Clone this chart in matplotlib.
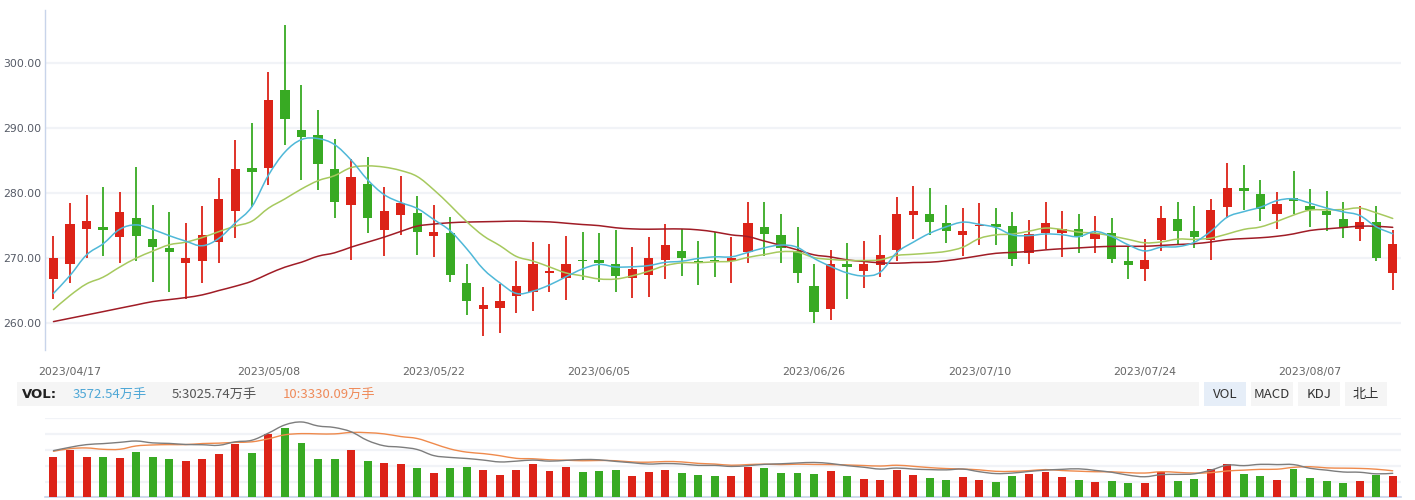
import matplotlib
matplotlib.use("Agg")
import matplotlib.pyplot as plt
from matplotlib.patches import Rectangle, PathPatch
from matplotlib.path import Path
import numpy as np

plt.rcParams['font.family'] = ['DejaVu Sans', 'Noto Sans CJK SC']

# ---------------- data ----------------
dates = [
    "2023/04/14", "2023/04/17", "2023/04/18", "2023/04/19", "2023/04/20", "2023/04/21",
    "2023/04/24", "2023/04/25", "2023/04/26", "2023/04/27", "2023/04/28",
    "2023/05/04", "2023/05/05", "2023/05/08", "2023/05/09", "2023/05/10", "2023/05/11",
    "2023/05/12", "2023/05/15", "2023/05/16", "2023/05/17", "2023/05/18", "2023/05/19",
    "2023/05/22", "2023/05/23", "2023/05/24", "2023/05/25", "2023/05/26", "2023/05/29",
    "2023/05/30", "2023/05/31", "2023/06/01", "2023/06/02", "2023/06/05", "2023/06/06",
    "2023/06/07", "2023/06/08", "2023/06/09", "2023/06/12", "2023/06/13", "2023/06/14",
    "2023/06/15", "2023/06/16", "2023/06/19", "2023/06/20", "2023/06/21", "2023/06/26",
    "2023/06/27", "2023/06/28", "2023/06/29", "2023/06/30", "2023/07/03", "2023/07/04",
    "2023/07/05", "2023/07/06", "2023/07/07", "2023/07/10", "2023/07/11", "2023/07/12",
    "2023/07/13", "2023/07/14", "2023/07/17", "2023/07/18", "2023/07/19", "2023/07/20",
    "2023/07/21", "2023/07/24", "2023/07/25", "2023/07/26", "2023/07/27", "2023/07/28",
    "2023/07/31", "2023/08/01", "2023/08/02", "2023/08/03", "2023/08/04", "2023/08/07",
    "2023/08/08", "2023/08/09", "2023/08/10", "2023/08/11", "2023/08/14",
]

opens = [266.77, 269.18, 274.46, 274.72, 273.23, 276.10, 272.87, 271.49, 269.33, 269.49,
         272.41, 277.18, 283.79, 283.79, 295.79, 289.64, 288.87, 283.64, 278.15, 281.33,
         274.31, 276.62, 276.87, 273.38, 273.79, 266.26, 262.15, 262.31, 264.15, 264.77,
         267.79, 266.92, 269.74, 269.79, 269.03, 266.92, 267.38, 269.69, 271.03, 269.64,
         269.79, 269.64, 270.87, 274.72, 273.49, 271.03, 265.79, 262.15, 269.18, 268.00,
         268.92, 271.23, 276.62, 276.72, 275.33, 273.49, 274.87, 275.18, 274.87, 270.77,
         273.85, 273.79, 274.41, 272.92, 273.79, 269.49, 268.31, 272.72, 275.95, 274.10,
         272.72, 277.79, 280.72, 279.79, 276.72, 279.18, 277.95, 277.18, 275.95, 274.46,
         275.49, 267.69]
closes = [269.95, 275.18, 275.64, 274.31, 277.03, 273.38, 271.69, 270.87, 270.10, 273.49,
          279.03, 283.64, 283.23, 294.26, 291.33, 288.56, 284.41, 278.62, 282.41, 276.15,
          277.18, 278.41, 274.00, 273.95, 267.38, 263.38, 262.87, 263.49, 265.79, 269.18,
          268.10, 269.18, 269.49, 269.23, 267.23, 268.26, 270.10, 271.95, 270.10, 269.38,
          269.49, 270.10, 275.33, 273.64, 271.49, 267.69, 261.69, 269.18, 268.62, 269.18,
          270.56, 276.72, 277.18, 275.49, 274.15, 274.10, 275.03, 274.72, 269.85, 273.64,
          275.33, 274.46, 273.23, 273.79, 269.85, 268.92, 269.79, 276.10, 274.15, 273.23,
          277.33, 280.72, 280.31, 277.54, 278.26, 278.72, 277.38, 276.56, 274.62, 275.49,
          270.00, 272.10]
highs = [273.33, 278.41, 279.64, 280.87, 280.10, 283.95, 278.10, 277.03, 275.33, 277.95,
         282.26, 288.10, 290.72, 298.56, 305.79, 296.56, 292.72, 288.26, 285.18, 285.49,
         280.87, 282.56, 279.49, 278.10, 276.26, 269.18, 265.64, 266.10, 269.64, 272.41,
         272.10, 273.33, 273.95, 273.79, 274.26, 271.64, 273.18, 275.18, 274.41, 272.56,
         273.95, 273.18, 278.56, 278.56, 276.72, 274.72, 269.03, 271.18, 272.26, 272.56,
         273.49, 279.33, 281.03, 280.72, 278.10, 277.64, 278.41, 277.64, 277.03, 275.79,
         278.56, 277.18, 276.72, 276.41, 276.10, 271.85, 272.87, 277.95, 278.56, 277.95,
         279.03, 284.56, 284.26, 281.95, 280.10, 283.33, 280.56, 280.26, 278.56, 277.95,
         277.95, 274.26]
lows = [263.69, 266.15, 269.95, 270.31, 269.33, 269.49, 266.41, 264.87, 263.69, 266.15,
        269.33, 273.03, 277.85, 281.18, 287.33, 281.95, 280.46, 276.15, 269.69, 273.85,
        270.31, 273.54, 270.46, 270.15, 266.31, 261.23, 258.00, 258.46, 261.54, 261.85,
        264.77, 263.54, 266.62, 266.31, 264.77, 263.85, 264.00, 266.77, 267.23, 265.85,
        267.08, 266.15, 269.23, 270.31, 269.23, 266.15, 260.00, 260.46, 263.69, 265.38,
        267.08, 269.54, 272.92, 273.49, 272.26, 270.31, 272.00, 272.00, 268.77, 269.08,
        271.38, 270.15, 270.77, 270.77, 269.23, 266.77, 266.46, 271.08, 272.15, 271.54,
        269.69, 276.10, 277.33, 275.64, 274.41, 276.72, 274.72, 274.10, 273.03, 272.62,
        269.54, 265.08]

# volume in 万手
volumes = [6754, 7926, 6754, 6754, 6587, 7592, 6754, 6419, 6084, 6419,
           7257, 8931, 7424, 10606, 11611, 9099, 6419, 6419, 7926, 6084,
           5749, 5582, 4912, 4075, 4912, 5080, 4577, 3740, 4577, 5582,
           4410, 5080, 4242, 4410, 4577, 3572, 4242, 4577, 4075, 3740,
           3572, 3572, 5080, 4912, 4075, 4075, 3907, 4410, 3572, 3070,
           2903, 4577, 3740, 3238, 2903, 3405, 2903, 2568, 3572, 3907,
           4242, 3405, 2903, 2568, 2735, 2400, 2400, 4242, 2735, 3070,
           4745, 5582, 3907, 3572, 2903, 4745, 3238, 2735, 2400, 2735,
           3740, 3572.54]

# moving-average values before enough history is visible
ma5_head = [264.60, 267.33, 270.50, 272.20]
ma10_head = [262.10, 264.26, 266.05, 267.08, 268.62, 270.00, 271.08, 272.05, 272.46]
ma30_head = [260.26, 260.77, 261.28, 261.79, 262.31, 262.82, 263.33, 263.64, 263.95, 264.36,
             265.03, 265.69, 266.46, 267.59, 268.62, 269.38, 270.30, 270.82, 271.69, 272.46,
             273.23, 274.10, 274.92, 275.23, 275.44, 275.54, 275.59, 275.64, 275.69]
vma5_head = [5908, 6330, 6668, 6794]
vma10_head = [5824, 6161, 6246, 6077, 6077, 6499, 6625, 6668, 6668]

tick_labels = ["2023/04/17", "2023/05/08", "2023/05/22", "2023/06/05",
               "2023/06/26", "2023/07/10", "2023/07/24", "2023/08/07"]
price_ticks = [260, 270, 280, 290, 300]

vol_title = "VOL:"
vol_texts = ["3572.54万手", "5:3025.74万手", "10:3330.09万手"]
tabs = ["VOL", "MACD", "KDJ", "北上"]

# ---------------- style ----------------
RED = "#dc2318"
GREEN = "#38aa23"
C_MA5 = "#4fb8d8"
C_MA10 = "#a6c95e"
C_MA30 = "#a01c26"
C_VMA5 = "#7d7d7d"
C_VMA10 = "#ef8a4c"
GRID = "#f1f3f7"
AXIS = "#c8d4ea"


def moving_avg(vals, n, head):
    vals = np.asarray(vals, dtype=float)
    out = np.empty(len(vals))
    out[:len(head)] = head
    for i in range(len(head), len(vals)):
        out[i] = vals[i - n + 1:i + 1].mean()
    return out


def smooth_line(axis, xs, ys, color, lw, z, t=0.18):
    """Draw a smooth curve (cubic Bezier) passing through every data point."""
    xs = np.asarray(xs, dtype=float)
    ys = np.asarray(ys, dtype=float)
    m = len(xs)
    verts = [(xs[0], ys[0])]
    codes = [Path.MOVETO]
    for i in range(m - 1):
        p0 = max(i - 1, 0)
        p3 = min(i + 2, m - 1)
        c1 = (xs[i] + (xs[i + 1] - xs[p0]) * t, ys[i] + (ys[i + 1] - ys[p0]) * t)
        c2 = (xs[i + 1] - (xs[p3] - xs[i]) * t, ys[i + 1] - (ys[p3] - ys[i]) * t)
        verts += [c1, c2, (xs[i + 1], ys[i + 1])]
        codes += [Path.CURVE4] * 3
    axis.add_patch(PathPatch(Path(verts, codes), fill=False, edgecolor=color,
                             linewidth=lw, zorder=z, capstyle="round", joinstyle="round"))


opens_a = np.array(opens)
closes_a = np.array(closes)
highs_a = np.array(highs)
lows_a = np.array(lows)
vol_a = np.array(volumes, dtype=float)
n = len(dates)
x = np.arange(n)
up = closes_a >= opens_a
cols = np.where(up, RED, GREEN)

ma5 = moving_avg(closes_a, 5, ma5_head)
ma10 = moving_avg(closes_a, 10, ma10_head)
ma30 = moving_avg(closes_a, 30, ma30_head)
vma5 = moving_avg(vol_a, 5, vma5_head)
vma10 = moving_avg(vol_a, 10, vma10_head)

W, H = 1415, 500
fig = plt.figure(figsize=(W / 100, H / 100), dpi=100)


def fx(px):
    return px / W


def fy(py):
    return 1 - py / H


left_px, right_px = 45.2, 1401.0

# ---------------- price panel ----------------
ax = fig.add_axes([fx(left_px), fy(350), fx(right_px - left_px), (350 - 10) / H])
ax.set_xlim(-0.5, n - 0.5)
ax.set_ylim(255.9, 308.1)
ax.set_axisbelow(True)
ax.set_yticks(price_ticks)
ax.set_yticklabels([f"{v:.2f}" for v in price_ticks])
ax.grid(axis="y", color=GRID, linewidth=1.6)
ax.grid(axis="x", visible=False)
for s in ["top", "right", "bottom"]:
    ax.spines[s].set_visible(False)
ax.spines["left"].set_color(AXIS)
ax.spines["left"].set_linewidth(1.0)
ax.tick_params(axis="y", length=0, pad=3, labelsize=7.8, labelcolor="#555a66")
ax.set_xticks([dates.index(d) for d in tick_labels])
ax.set_xticklabels(tick_labels)
ax.tick_params(axis="x", length=0, pad=12, labelsize=7.9, labelcolor="#666666")

ax.vlines(x, lows_a, highs_a, colors=cols, linewidth=1.3, zorder=3)
body_bottom = np.minimum(opens_a, closes_a)
body_h = np.maximum(np.abs(closes_a - opens_a), 0.16)
ax.bar(x, body_h, bottom=body_bottom, width=0.56, color=cols, linewidth=0, zorder=4)

smooth_line(ax, x, ma30, C_MA30, 1.1, 5)
smooth_line(ax, x, ma10, C_MA10, 1.1, 6)
smooth_line(ax, x, ma5, C_MA5, 1.1, 7)

# ---------------- VOL header row ----------------
fig.patches.append(Rectangle((fx(17), fy(406)), fx(1199 - 17), 24 / H,
                             transform=fig.transFigure, facecolor="#f5f5f5",
                             edgecolor="none", zorder=0))
fig.text(fx(22), fy(394.5), vol_title, fontsize=9.5, fontweight="bold",
         color="#222222", va="center", ha="left")
txt_x = [73, 172, 283]
txt_c = ["#4ea7d6", "#555555", "#ef8b5a"]
for t, px, c in zip(vol_texts, txt_x, txt_c):
    fig.text(fx(px), fy(394.5), t, fontsize=9.5, color=c, va="center", ha="left",
             family=["Noto Sans CJK SC", "DejaVu Sans"])

tab_x = [(1204, 1246), (1251, 1293), (1298, 1340), (1345, 1387)]
for i, (t, (a, b)) in enumerate(zip(tabs, tab_x)):
    fc = "#e6eef8" if i == 0 else "#f5f5f5"
    fig.patches.append(Rectangle((fx(a), fy(406)), fx(b - a), 24 / H,
                                 transform=fig.transFigure, facecolor=fc,
                                 edgecolor="none", zorder=0))
    fig.text(fx((a + b) / 2), fy(394.5), t, fontsize=9.5, color="#333333",
             va="center", ha="center", family=["Noto Sans CJK SC", "DejaVu Sans"])

# ---------------- volume panel ----------------
axv = fig.add_axes([fx(left_px), fy(497.3), fx(right_px - left_px), (497.3 - 418.3) / H])
vmax_bar = 13230
axv.set_xlim(-0.5, n - 0.5)
axv.set_ylim(0, vmax_bar)
axv.set_axisbelow(True)
axv.set_yticks(np.linspace(0, vmax_bar, 6))
axv.grid(axis="y", color=GRID, linewidth=1.6)
axv.set_xticks([])
axv.tick_params(axis="y", length=0, labelleft=False)
for s in ["top", "right", "left"]:
    axv.spines[s].set_visible(False)
axv.spines["bottom"].set_color(AXIS)
axv.spines["bottom"].set_linewidth(1.2)
axv.bar(x, vol_a, width=0.48, color=cols, linewidth=0, zorder=3)

axl = axv.twinx()
axl.set_xlim(-0.5, n - 0.5)
axl.set_ylim(0, 10000)
axl.set_yticks([])
for s in axl.spines.values():
    s.set_visible(False)
smooth_line(axl, x, vma10, C_VMA10, 1.0, 5)
smooth_line(axl, x, vma5, C_VMA5, 1.0, 6)

fig.savefig("out.png", dpi=100)
